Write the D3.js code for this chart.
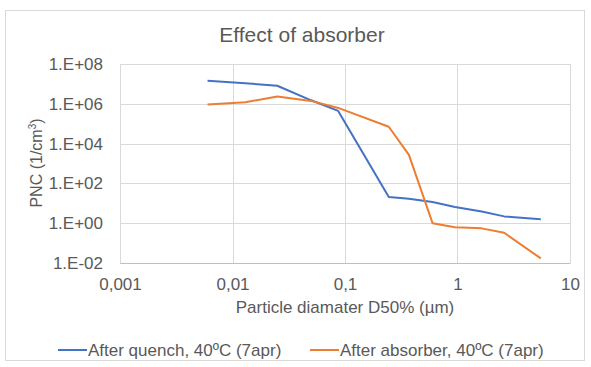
<!DOCTYPE html>
<html><head><meta charset="utf-8">
<script src="https://cdn.jsdelivr.net/npm/d3@7"></script>
<style>body{margin:0;background:#fff;} text{font-family:"Liberation Sans",Arial,sans-serif;}</style>
</head><body>
<svg id="c" width="591" height="367"></svg>
<script>
const diameters = [0.006, 0.013, 0.025, 0.05, 0.087, 0.245, 0.37, 0.6, 0.95, 1.64, 2.6, 5.5];
const quench = [1.45e7, 1.07e7, 8.1e6, 1.5e6, 4.4e5, 21, 17, 11.7, 6.5, 3.9, 2.2, 1.6];
const absorber = [9.3e5, 1.2e6, 2.3e6, 1.4e6, 6.2e5, 7e4, 2.7e3, 1.0, 0.62, 0.55, 0.33, 0.017];
const seriesNames = ["After quench, 40ºC (7apr)", "After absorber, 40ºC (7apr)"];
const xTicks = [0.001, 0.01, 0.1, 1, 10];
const xTickLabels = ["0,001", "0,01", "0,1", "1", "10"];
const yTicks = [1e-2, 1, 1e2, 1e4, 1e6, 1e8];
const yTickLabels = ["1.E-02", "1.E+00", "1.E+02", "1.E+04", "1.E+06", "1.E+08"];
const colors = ["#4472C4", "#ED7D31"];

const svg = d3.select("#c");
const L = 120, R = 570, T = 64, B = 263;
const x = d3.scaleLog().domain([0.001, 10]).range([L, R]);
const y = d3.scaleLog().domain([1e-2, 1e8]).range([B, T]);
const grey = "#595959";
const FS = 17;

svg.append("rect").attr("x", 5.5).attr("y", 10.5).attr("width", 579).attr("height", 350)
  .attr("fill", "#fff").attr("stroke", "#d9d9d9");

// grid
svg.append("g").selectAll("line").data(yTicks).join("line")
  .attr("x1", L).attr("x2", R).attr("y1", d => Math.round(y(d)) + 0.5).attr("y2", d => Math.round(y(d)) + 0.5)
  .attr("stroke", "#d9d9d9");
svg.append("g").selectAll("line").data(xTicks).join("line")
  .attr("y1", T).attr("y2", B).attr("x1", d => Math.round(x(d)) + 0.5).attr("x2", d => Math.round(x(d)) + 0.5)
  .attr("stroke", "#d9d9d9");

// axes
const xAxis = d3.axisBottom(x).tickValues(xTicks).tickFormat((d, i) => xTickLabels[i]).tickSize(0).tickPadding(15);
const gx = svg.append("g").attr("transform", `translate(0,${B})`).call(xAxis);
gx.select(".domain").attr("stroke", "#bfbfbf");
gx.selectAll("text").attr("fill", grey).attr("font-size", FS).attr("font-family", "Liberation Sans, Arial, sans-serif");

const yAxis = d3.axisLeft(y).tickValues(yTicks).tickFormat((d, i) => yTickLabels[i]).tickSize(0).tickPadding(17);
const gy = svg.append("g").attr("transform", `translate(${L},0)`).call(yAxis);
gy.select(".domain").remove();
gy.selectAll("text").attr("fill", grey).attr("font-size", FS).attr("font-family", "Liberation Sans, Arial, sans-serif");

// lines
const line = d3.line().x((d, i) => x(diameters[i])).y(d => y(d));
[quench, absorber].forEach((s, k) => {
  svg.append("path").datum(s).attr("d", line).attr("fill", "none")
    .attr("stroke", colors[k]).attr("stroke-width", 2).attr("stroke-linejoin", "round");
});

// title
svg.append("text").attr("x", 302).attr("y", 42).attr("text-anchor", "middle")
  .attr("font-size", 21).attr("fill", grey).text("Effect of absorber");

// axis titles
svg.append("text").attr("x", 345).attr("y", 313).attr("text-anchor", "middle")
  .attr("font-size", FS).attr("fill", grey).text("Particle diamater D50% (µm)");
const yt = svg.append("text").attr("transform", "translate(42,163) rotate(-90)").attr("text-anchor", "middle")
  .attr("font-size", 16).attr("fill", grey);
yt.append("tspan").text("PNC (1/cm");
yt.append("tspan").attr("font-size", 10).attr("dy", -6).text("3");
yt.append("tspan").attr("dy", 6).text(")");

// legend
const legX = [58, 310];
seriesNames.forEach((n, k) => {
  svg.append("line").attr("x1", legX[k]).attr("x2", legX[k] + 29).attr("y1", 350).attr("y2", 350)
    .attr("stroke", colors[k]).attr("stroke-width", 2);
  svg.append("text").attr("x", legX[k] + 30).attr("y", 356).attr("font-size", FS).attr("fill", grey).text(n);
});
</script>
</body></html>
